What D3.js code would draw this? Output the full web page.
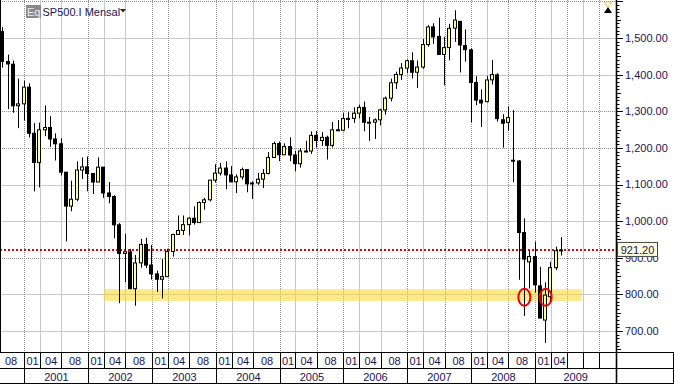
<!DOCTYPE html>
<html>
<head>
<meta charset="utf-8">
<script src="https://cdnjs.cloudflare.com/ajax/libs/d3/7.8.5/d3.min.js"></script>
<style>
body{margin:0;background:#fff;}
svg{display:block;font-family:"Liberation Sans",Arial,sans-serif;}
</style>
</head>
<body>
<div id="chart"></div>
<script>
var firstMonth = "2000-09";
var opens = [1517.68,1436.23,1428.76,1315.19,
  1320.28,1366.01,1239.94,1160.33,1249.46,1255.82,1224.42,1211.23,1133.58,1040.94,1059.78,1139.45,
  1148.08,1130.20,1106.73,1147.39,1076.92,1067.14,989.82,911.62,916.07,815.28,885.76,936.31,
  879.82,855.70,841.15,848.18,916.92,963.59,974.50,990.31,1008.01,995.97,1050.71,1058.20,
  1111.92,1131.13,1144.94,1126.21,1107.30,1120.68,1140.84,1101.72,1104.24,1114.58,1130.20,1173.82,
  1211.92,1181.27,1203.60,1180.59,1156.85,1191.50,1191.33,1234.18,1220.33,1228.81,1207.01,1249.48,
  1248.29,1280.08,1280.66,1294.87,1310.61,1270.09,1270.20,1276.66,1303.82,1335.85,1377.94,1400.63,
  1418.03,1437.90,1406.80,1420.83,1482.37,1530.62,1504.66,1455.18,1473.96,1527.29,1545.79,1479.63,
  1467.97,1378.60,1330.45,1326.41,1385.97,1399.62,1276.69,1269.42,1164.00,1164.17,968.67,888.61,
  902.99,823.09,729.57,793.59,872.74,919.14];
var highs = [1530.09,1454.82,1438.46,1389.06,
  1383.37,1376.38,1267.42,1269.30,1315.93,1286.62,1239.78,1226.27,1133.58,1110.61,1163.38,1173.62,
  1176.55,1130.20,1173.94,1147.84,1106.59,1070.74,994.46,965.00,924.02,907.44,951.57,954.28,
  935.05,864.64,895.90,924.24,965.38,1015.33,1015.41,1011.01,1040.29,1053.79,1063.65,1112.56,
  1155.38,1158.98,1163.23,1150.57,1127.74,1146.34,1140.84,1108.60,1131.54,1142.05,1188.46,1217.33,
  1217.80,1212.44,1229.11,1191.88,1199.56,1219.59,1245.15,1245.86,1243.13,1233.34,1270.64,1275.80,
  1294.90,1297.57,1310.88,1318.16,1326.70,1284.38,1280.42,1306.74,1340.28,1389.45,1407.89,1431.81,
  1441.61,1461.57,1438.89,1498.02,1535.56,1540.56,1555.90,1503.89,1538.74,1576.09,1545.79,1523.57,
  1471.77,1396.02,1359.68,1397.00,1440.24,1404.05,1292.17,1313.15,1303.04,1167.03,1007.51,918.85,
  943.85,875.01,832.98,888.70,930.17,956.23];
var lows = [1419.44,1305.79,1296.00,1254.07,
  1274.62,1228.33,1081.19,1091.99,1232.00,1203.03,1165.54,1124.87,944.75,1026.76,1054.31,1114.93,
  1081.66,1074.36,1106.73,1063.46,1048.96,952.92,775.68,833.44,815.28,768.63,872.75,871.85,
  840.34,806.29,788.90,847.85,902.83,963.59,962.10,960.84,990.36,995.97,1031.20,1053.41,
  1105.08,1124.44,1087.16,1105.91,1076.32,1113.32,1078.78,1060.72,1099.18,1090.19,1127.60,1173.76,
  1163.75,1180.95,1163.69,1136.15,1146.18,1188.30,1183.55,1201.07,1205.35,1168.20,1201.07,1246.59,
  1245.74,1253.61,1268.42,1280.74,1245.34,1219.29,1224.54,1261.30,1290.93,1327.10,1360.98,1385.93,
  1403.97,1389.42,1363.98,1416.37,1476.70,1484.18,1454.25,1370.60,1439.29,1489.56,1406.10,1435.65,
  1270.05,1316.75,1256.98,1324.35,1373.07,1272.00,1200.44,1247.45,1106.39,839.80,741.02,815.69,
  804.47,734.52,666.79,783.32,866.10,906.00];
var closes = [1436.51,1429.40,1314.95,1320.28,
  1366.01,1239.94,1160.33,1249.46,1255.82,1224.38,1211.23,1133.58,1040.94,1059.78,1139.45,1148.08,
  1130.20,1106.73,1147.39,1076.92,1067.14,989.82,911.62,916.07,815.28,885.76,936.31,879.82,
  855.70,841.15,848.18,916.92,963.59,974.50,990.31,1008.01,995.97,1050.71,1058.20,1111.92,
  1131.13,1144.94,1126.21,1107.30,1120.68,1140.84,1101.72,1104.24,1114.58,1130.20,1173.82,1211.92,
  1181.27,1203.60,1180.59,1156.85,1191.50,1191.33,1234.18,1220.33,1228.81,1207.01,1249.48,1248.29,
  1280.08,1280.66,1294.87,1310.61,1270.09,1270.20,1276.66,1303.82,1335.85,1377.94,1400.63,1418.30,
  1438.24,1406.82,1420.86,1482.37,1530.62,1503.35,1455.27,1473.99,1526.75,1549.38,1481.14,1468.36,
  1378.55,1330.63,1322.70,1385.59,1400.38,1280.00,1267.38,1282.83,1166.36,968.75,896.24,903.25,
  825.88,735.09,797.87,872.81,919.14,921.20];
var lastPrice = 921.20;
var priceTicks = [700,800,900,1000,1100,1200,1300,1400,1500,1600];
var dottedPrices = [900,1200,1300,1600];
var monthTicks = ["2000-08","2001-01","2001-04","2001-08","2002-01","2002-04","2002-08","2003-01","2003-04","2003-08",
  "2004-01","2004-04","2004-08","2005-01","2005-04","2005-08","2006-01","2006-04","2006-08","2007-01","2007-04","2007-08",
  "2008-01","2008-04","2008-08","2009-01","2009-04","2009-07","2009-10","2010-01"];
var dottedMonths = ["2001-01","2002-01","2003-01","2003-04","2004-01","2005-01","2005-08","2006-01","2007-01","2007-08",
  "2008-01","2008-08","2009-01","2009-07","2010-01"];
var years = ["2001","2002","2003","2004","2005","2006","2007","2008","2009"];
var supportBand = {from: "2002-04", to: "2009-10", low: 782, high: 814};
var circled = [["2008-11", 792], ["2009-03", 792]];

var W = 674, H = 384, plotR = 616, plotB = 352, rowH = 16;
var textCol = "#1a1450";

function monthIndex(s){
  var p = s.split("-");
  return (+p[0] - 2001) * 12 + (+p[1] - 1);
}

var x = d3.scaleLinear().domain([0, 96]).range([24, 535]);
var y = d3.scaleLinear().domain([800, 1300]).range([294.3, 111.3]);
var start = monthIndex(firstMonth);
var lastIdx = start + closes.length - 1;

var svg = d3.select("#chart").append("svg")
  .attr("width", W)
  .attr("height", H);

var defs = svg.append("defs");
defs.append("clipPath").attr("id", "plot")
  .append("rect").attr("x", 0).attr("y", 0).attr("width", plotR).attr("height", plotB);
defs.append("clipPath").attr("id", "underBox")
  .append("rect").attr("x", plotR).attr("y", y(lastPrice) + 7).attr("width", W - plotR).attr("height", 20);

var plot = svg.append("g").attr("clip-path", "url(#plot)");

priceTicks.forEach(function(v){
  var yy = Math.round(y(v)) + 0.5;
  var dot = dottedPrices.indexOf(v) >= 0;
  plot.append("line")
    .attr("x1", 0).attr("x2", plotR)
    .attr("y1", yy).attr("y2", yy)
    .attr("stroke", dot ? "#8c8c8c" : "#c8c8c8")
    .attr("stroke-dasharray", dot ? "1,1" : null);
});

monthTicks.forEach(function(m){
  var xx = Math.round(x(monthIndex(m))) + 0.5;
  var dot = dottedMonths.indexOf(m) >= 0;
  plot.append("line")
    .attr("x1", xx).attr("x2", xx)
    .attr("y1", 0).attr("y2", plotB)
    .attr("stroke", dot ? "#8c8c8c" : "#c8c8c8")
    .attr("stroke-dasharray", dot ? "1,1" : null);
});

plot.append("rect")
  .attr("x", x(monthIndex(supportBand.from)))
  .attr("y", y(supportBand.high))
  .attr("width", x(monthIndex(supportBand.to)) - x(monthIndex(supportBand.from)) - 1)
  .attr("height", y(supportBand.low) - y(supportBand.high))
  .attr("fill", "#fcd52a")
  .attr("fill-opacity", 0.55);

plot.append("line")
  .attr("x1", 0).attr("x2", plotR)
  .attr("y1", y(lastPrice)).attr("y2", y(lastPrice))
  .attr("stroke", "#e00000")
  .attr("stroke-width", 2)
  .attr("stroke-dasharray", "2,2");

var candles = plot.append("g");
closes.forEach(function(c, i){
  var o = opens[i];
  var cx = Math.floor(x(start + i));
  candles.append("line")
    .attr("x1", cx + 0.5).attr("x2", cx + 0.5)
    .attr("y1", y(highs[i])).attr("y2", y(lows[i]))
    .attr("stroke", "#000");
  var top = y(Math.max(o, c)), bot = y(Math.min(o, c));
  candles.append("rect")
    .attr("x", cx - 1.5)
    .attr("y", top)
    .attr("width", 3)
    .attr("height", Math.max(bot - top, 1))
    .attr("fill", c >= o ? "#ffff99" : "#000")
    .attr("stroke", "#000");
});

circled.forEach(function(d){
  plot.append("ellipse")
    .attr("cx", x(monthIndex(d[0])))
    .attr("cy", y(d[1]))
    .attr("rx", 6).attr("ry", 8.5)
    .attr("fill", "none")
    .attr("stroke", "#e8000b")
    .attr("stroke-width", 2);
});

svg.append("line")
  .attr("x1", 0.5).attr("x2", 0.5)
  .attr("y1", 0).attr("y2", plotB)
  .attr("stroke", "#000");

// price axis
svg.append("line")
  .attr("x1", plotR + 0.5).attr("x2", plotR + 0.5)
  .attr("y1", 0).attr("y2", H)
  .attr("stroke", "#000").attr("stroke-width", 1.6);

d3.range(650, 1610, 10).forEach(function(v){
  var yy = Math.round(y(v)) + 0.5;
  if (yy > plotB) return;
  var len = v % 100 === 0 ? 6 : (v % 50 === 0 ? 4 : 2.5);
  svg.append("line")
    .attr("x1", plotR + 1).attr("x2", plotR + 1 + len)
    .attr("y1", yy).attr("y2", yy)
    .attr("stroke", "#000");
});

var fmt = d3.format(",.2f");
priceTicks.forEach(function(v){
  if (v > 1550) return;
  var t = svg.append("text")
    .attr("x", 625).attr("y", y(v))
    .attr("dy", "0.36em")
    .attr("font-size", 11)
    .attr("fill", textCol)
    .text(fmt(v));
  if (Math.abs(y(v) - y(lastPrice)) < 14) t.attr("clip-path", "url(#underBox)");
});

var boxY = y(lastPrice);
svg.append("rect")
  .attr("x", plotR + 1.5).attr("y", boxY - 7.5)
  .attr("width", 40).attr("height", 14)
  .attr("fill", "#ffffe1")
  .attr("stroke", "#444");
svg.append("text")
  .attr("x", plotR + 21.5).attr("y", boxY)
  .attr("dy", "0.36em")
  .attr("text-anchor", "middle")
  .attr("font-size", 11)
  .attr("fill", textCol)
  .text(fmt(lastPrice));

// time axis rows
[plotB + 0.5, plotB + rowH + 0.5, H - 0.5].forEach(function(yy){
  svg.append("line")
    .attr("x1", 0).attr("x2", W)
    .attr("y1", yy).attr("y2", yy)
    .attr("stroke", "#000");
});
svg.append("line")
  .attr("x1", W - 0.5).attr("x2", W - 0.5)
  .attr("y1", plotB).attr("y2", H)
  .attr("stroke", "#000");

monthTicks.forEach(function(m, i){
  var x0 = Math.round(x(monthIndex(m))) + 0.5;
  var x1 = i < monthTicks.length - 1 ? Math.round(x(monthIndex(monthTicks[i + 1]))) + 0.5 : plotR;
  if (x0 > 0) {
    svg.append("line")
      .attr("x1", x0).attr("x2", x0)
      .attr("y1", plotB).attr("y2", plotB + rowH)
      .attr("stroke", "#000");
  }
  if (monthIndex(m) > lastIdx) return;
  svg.append("text")
    .attr("x", (x0 + x1) / 2).attr("y", plotB + 12.5)
    .attr("text-anchor", "middle")
    .attr("font-size", 11)
    .attr("fill", textCol)
    .text(m.slice(5));
});

years.forEach(function(yr, i){
  var x0 = Math.round(x(monthIndex(yr + "-01"))) + 0.5;
  var x1 = i < years.length - 1 ? Math.round(x(monthIndex(years[i + 1] + "-01"))) + 0.5 : plotR;
  svg.append("line")
    .attr("x1", x0).attr("x2", x0)
    .attr("y1", plotB + rowH).attr("y2", H)
    .attr("stroke", "#000");
  svg.append("text")
    .attr("x", (x0 + x1) / 2).attr("y", plotB + rowH + 12.5)
    .attr("text-anchor", "middle")
    .attr("font-size", 11)
    .attr("fill", textCol)
    .text(yr);
});

// header
svg.append("rect")
  .attr("x", 26).attr("y", 5).attr("width", 15).attr("height", 13)
  .attr("fill", "#8a8a8a");
svg.append("text")
  .attr("x", 27).attr("y", 15.5)
  .attr("font-size", 11)
  .attr("fill", "#f0f0f0")
  .text("Eq");
svg.append("text")
  .attr("x", 42.5).attr("y", 15.5)
  .attr("font-size", 11)
  .attr("fill", textCol)
  .text("SP500.I Mensal");
svg.append("path")
  .attr("d", "M120,9 L126,9 L123,12.5 Z")
  .attr("fill", "#222");

svg.append("path")
  .attr("d", "M604,2 L612,2 L608,7 Z")
  .attr("fill", "#ffffcc").attr("stroke", "#d8c870");
svg.append("path")
  .attr("d", "M604,13 L612,13 L608,7 Z")
  .attr("fill", "#000");
</script>
</body>
</html>
